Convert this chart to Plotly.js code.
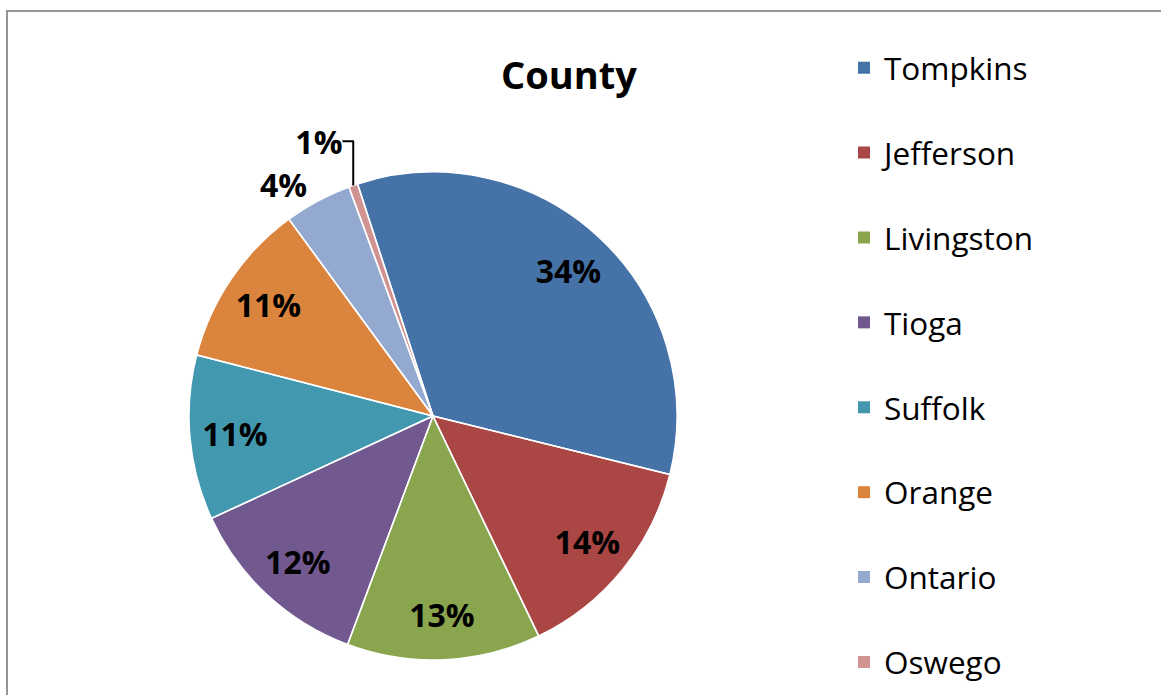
<!DOCTYPE html>
<html>
<head>
<meta charset="utf-8">
<script src="https://cdn.plot.ly/plotly-3.0.1.min.js"></script>
<style>
  html, body { margin: 0; padding: 0; background: #ffffff; }
  #chart { width: 1161px; height: 695px; }
</style>
</head>
<body>
<div id="chart"></div>
<script>
// ---- data ----
const counties = ['Tompkins', 'Jefferson', 'Livingston', 'Tioga', 'Suffolk', 'Orange', 'Ontario', 'Oswego'];
const shares = [33.8, 14.0, 12.8, 12.4, 10.9, 10.9, 4.45, 0.6];
const sliceColors = ['#4572A7', '#AA4643', '#89A54E', '#71588F', '#4198AF', '#DB843D', '#93A9CF', '#D19392'];
const titleText = 'County';

// legend entries: pad all but the last with a blank second line to get the wide row spacing
const legendLabels = counties.map((c, i) => i < counties.length - 1 ? c + '<br>\u00a0' : c);
const textPos = shares.map(v => v < 5 ? 'outside' : 'inside');
const clear = shares.map(() => 'rgba(0,0,0,0)');

const W = 1161, H = 695;
const dom = { x: [189 / W, 677 / W], y: [1 - 660 / H, 1 - 172 / H] };
const labelFont = { family: 'Open Sans, sans-serif', size: 32, color: '#000000', weight: 'bold' };
const common = {
  type: 'pie', labels: legendLabels, values: shares, sort: false,
  direction: 'clockwise', rotation: -18, hoverinfo: 'none', automargin: false, domain: dom
};

// filled slices (carry the legend)
const fillTrace = Object.assign({}, common, {
  marker: { colors: sliceColors, line: { width: 0 } },
  textinfo: 'none', showlegend: true
});
// white slice separators
const edgeTrace = Object.assign({}, common, {
  marker: { colors: clear, line: { color: '#ffffff', width: 1.5 } },
  textinfo: 'none', showlegend: false
});
// percentage labels (ring trace so inside labels sit near the rim)
const textTrace = Object.assign({}, common, {
  hole: 0.63,
  marker: { colors: clear, line: { width: 0 } },
  texttemplate: '%{percent:.0%}',
  textposition: textPos,
  insidetextorientation: 'horizontal',
  textfont: labelFont,
  outsidetextfont: labelFont,
  showlegend: false
});

const layout = {
  width: W, height: H,
  margin: { l: 0, r: 0, t: 0, b: 0, autoexpand: false },
  paper_bgcolor: '#ffffff',
  title: {
    text: titleText,
    font: { family: 'Open Sans, sans-serif', size: 38, color: '#000000', weight: 'bold' },
    x: 569 / W, xanchor: 'center', xref: 'paper',
    y: 1 - 76 / H, yanchor: 'middle', yref: 'container'
  },
  showlegend: true,
  legend: {
    x: 844 / W, xanchor: 'left',
    y: 1 - 40.7 / H, yanchor: 'top',
    valign: 'top',
    font: { family: 'Open Sans, sans-serif', size: 31.5, color: '#000000' },
    bgcolor: 'rgba(0,0,0,0)', borderwidth: 0
  },
  shapes: [{
    type: 'rect', xref: 'paper', yref: 'paper', layer: 'below',
    x0: 7 / W, x1: 1.05, y0: -0.05, y1: 1 - 11 / H,
    line: { color: '#959595', width: 2 }, fillcolor: 'rgba(0,0,0,0)'
  }]
};

Plotly.newPlot('chart', [fillTrace, edgeTrace, textTrace], layout, { displayModeBar: false, staticPlot: true });
</script>
</body>
</html>
